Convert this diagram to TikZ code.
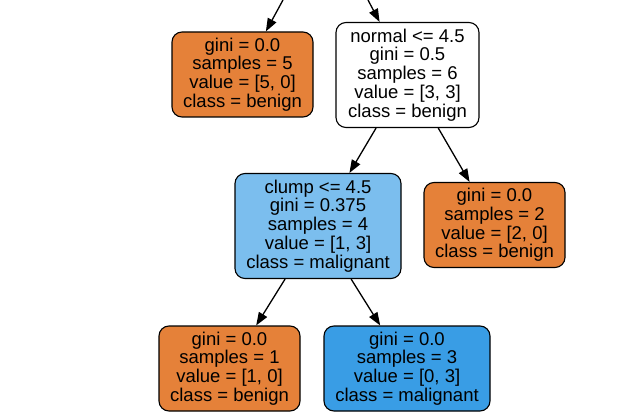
\documentclass[tikz,border=0pt]{standalone}
\usepackage{fontspec}
\setmainfont{Liberation Sans}
\usepackage{tikz}
\usetikzlibrary{positioning, arrows.meta, calc}
\definecolor{leafbenign}{RGB}{229,129,57}
\definecolor{leafmalig}{RGB}{57,157,229}
\definecolor{mixmalig}{RGB}{123,190,238}

\tikzset{
  treenode/.style={draw=black, line width=1.1pt, rounded corners=10pt, align=center,
    inner sep=2pt, font=\fontsize{18.5}{18.8}\selectfont},
  leafnode/.style={treenode, minimum width=141pt, minimum height=85pt},
  splitnode/.style={treenode, minimum height=105pt},
  edge/.style={line width=1.3pt, -{Triangle[length=13pt, width=9.5pt]}}
}

\begin{document}
\begin{tikzpicture}[x=1pt, y=-1pt]
        \useasboundingbox (0,0) rectangle (632,417);
        % ebene 1
        \coordinate (upleft) at (283,0);
        \coordinate (upright) at (368,0);
        \node[leafnode, fill=leafbenign] (benign5) at (242.5,74.5)
          {gini = 0.0\\samples = 5\\value = [5, 0]\\class = benign};
        \node[splitnode, fill=white, minimum width=143pt] (normal) at (407.5,75)
          {normal <= 4.5\\gini = 0.5\\samples = 6\\value = [3, 3]\\class = benign};
        % ebene 2
        \node[splitnode, fill=mixmalig, minimum width=166pt] (clump) at (318,226)
          {clump <= 4.5\\gini = 0.375\\samples = 4\\value = [1, 3]\\class = malignant};
        \node[leafnode, fill=leafbenign] (benign2) at (494.5,225)
          {gini = 0.0\\samples = 2\\value = [2, 0]\\class = benign};
        % ebene 3
        \node[leafnode, fill=leafbenign] (benign1) at (229.5,368.5)
          {gini = 0.0\\samples = 1\\value = [1, 0]\\class = benign};
        \node[leafnode, fill=leafmalig, minimum width=166pt] (malig3) at (407,368.5)
          {gini = 0.0\\samples = 3\\value = [0, 3]\\class = malignant};
        % kanten
        \draw[edge] (upleft) -- (benign5);
        \draw[edge] (upright) -- (normal);
        \draw[edge] (normal) -- (clump);
        \draw[edge] (normal) -- (benign2);
        \draw[edge] (clump) -- (benign1);
        \draw[edge] (clump) -- (malig3);
      \end{tikzpicture}
\end{document}
